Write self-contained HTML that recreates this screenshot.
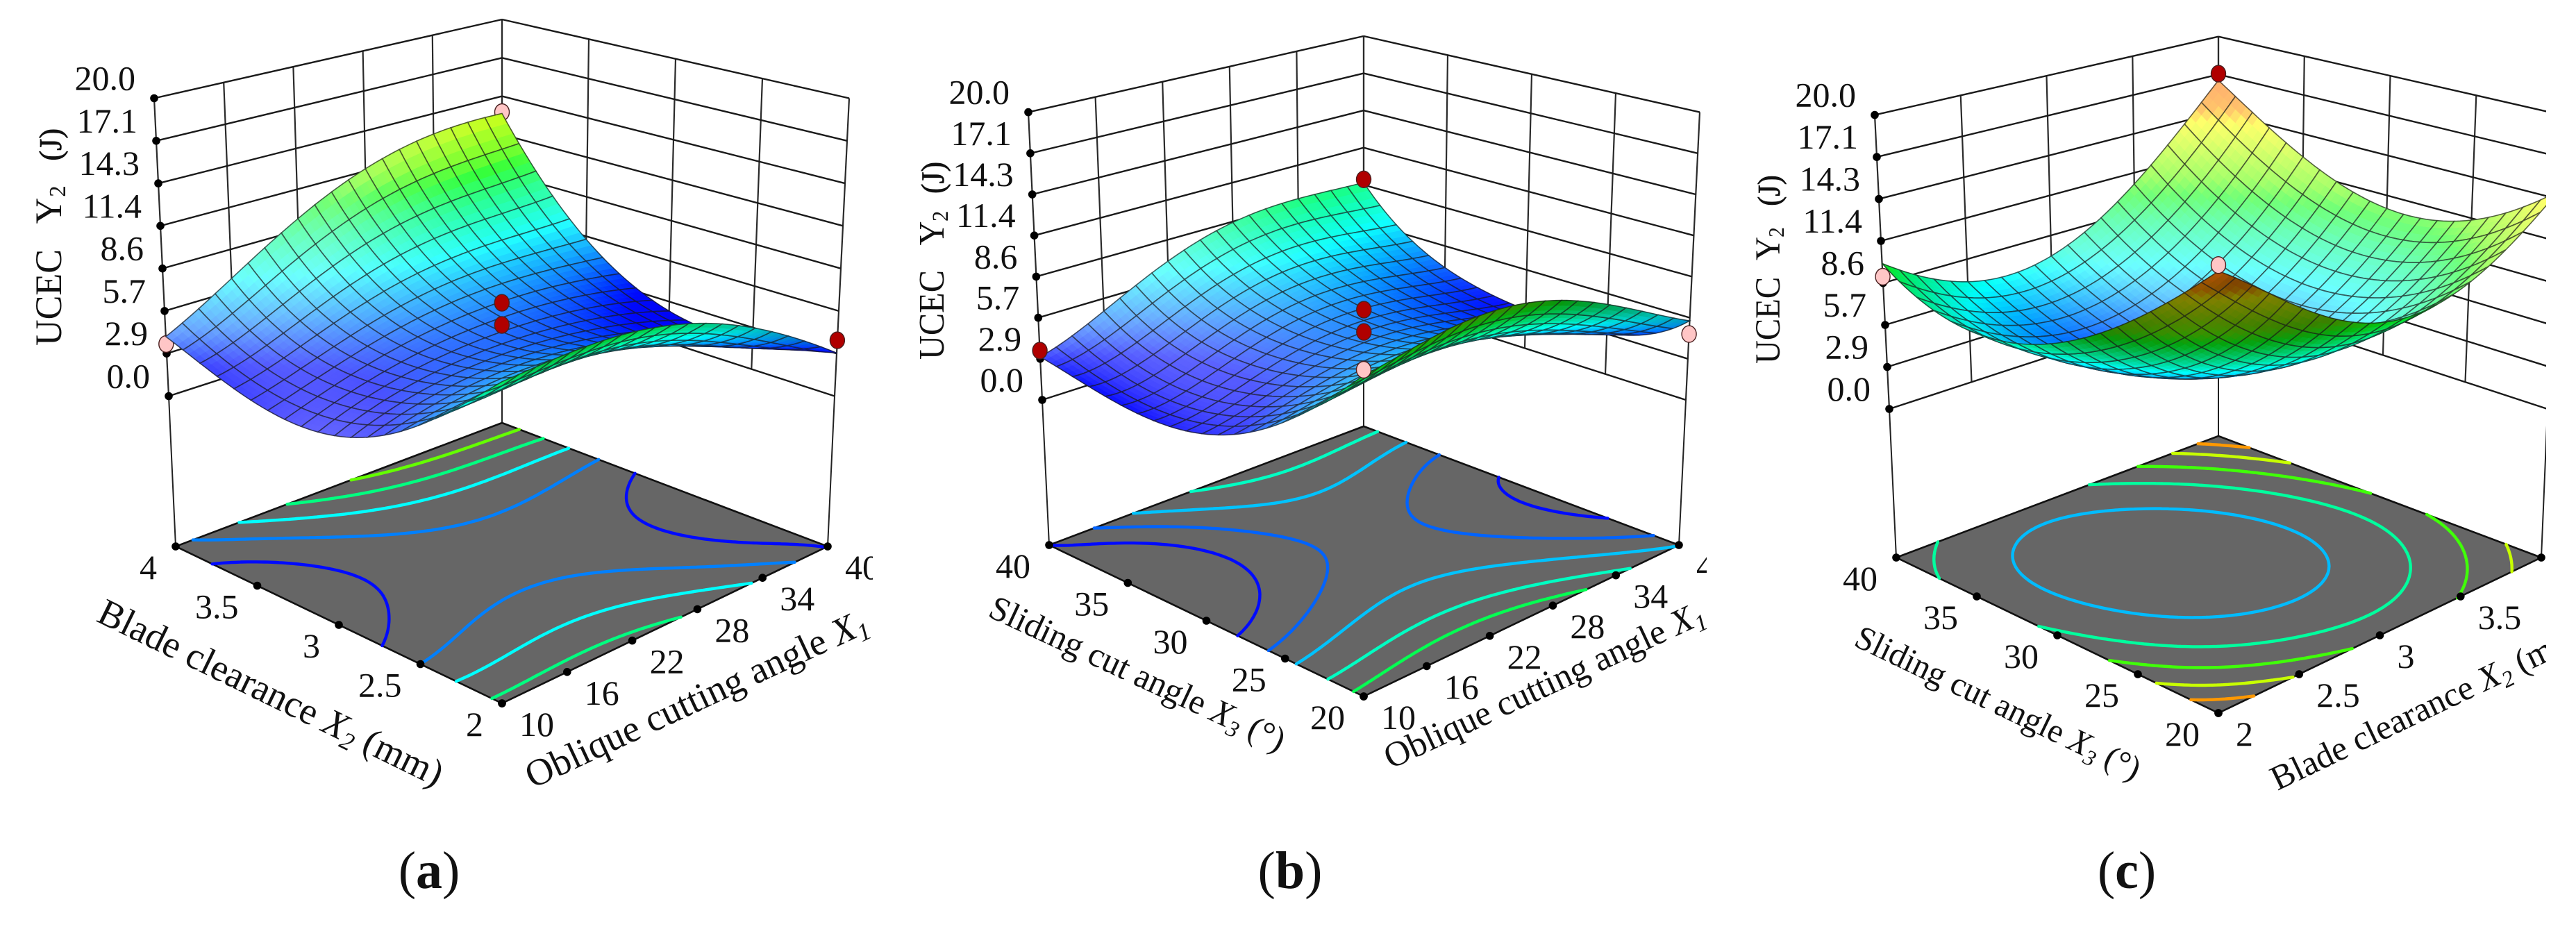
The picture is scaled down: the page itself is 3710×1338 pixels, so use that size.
<!DOCTYPE html>
<html lang="en">
<head>
<meta charset="utf-8">
<title>UCEC response surfaces</title>
<style>
html,body{margin:0;padding:0;background:#fff;}
svg{display:block;font-family:"Liberation Serif","Times New Roman",serif;fill:#111;}
</style>
</head>
<body>
<svg id="chart" xmlns="http://www.w3.org/2000/svg" width="3710" height="1338" viewBox="0 0 3710 1338">
  <defs>
    <clipPath id="clip-a"><rect x="0" y="0" width="1257" height="1180"/></clipPath>
    <clipPath id="clip-b"><rect x="1270" y="0" width="1188" height="1180"/></clipPath>
    <clipPath id="clip-c"><rect x="2480" y="0" width="1187" height="1180"/></clipPath>
  </defs>
  <rect width="3710" height="1338" fill="#fff"/>

  <g clip-path="url(#clip-a)">
    <g id="plot-a"></g>
    <text transform="translate(88,498) rotate(-90) scale(0.965,1)" font-size="54"><tspan x="0">UCEC</tspan><tspan x="182">Y</tspan><tspan x="222" dy="6" font-size="34">2</tspan><tspan x="276" dy="-6" font-size="46" stroke="#111" stroke-width="0.7">(J)</tspan></text>
    <text transform="translate(137,894) rotate(26)" font-size="54.5">Blade clearance <tspan font-style="italic">X</tspan><tspan dy="9" font-size="36" font-style="italic">2</tspan><tspan dy="-9"> (mm)</tspan></text>
    <text transform="translate(767,1136) rotate(-25)" font-size="54.5">Oblique cutting angle <tspan font-style="italic">X</tspan><tspan dy="9" font-size="36" font-style="italic">1</tspan></text>
  </g>

  <g clip-path="url(#clip-b)">
    <g id="plot-b"></g>
    <text transform="translate(1359,518) rotate(-90) scale(0.93,1)" font-size="52"><tspan x="0">UCEC</tspan><tspan x="177">Y</tspan><tspan x="214" dy="6" font-size="33">2</tspan><tspan x="257" dy="-6" font-size="47" stroke="#111" stroke-width="0.7">(J)</tspan></text>
    <text transform="translate(1421,887) rotate(25)" font-size="50">Sliding cut angle <tspan font-style="italic">X</tspan><tspan dy="9" font-size="33" font-style="italic">3</tspan><tspan dy="-9"> (°)</tspan></text>
    <text transform="translate(2003,1108) rotate(-25)" font-size="51">Oblique cutting angle <tspan font-style="italic">X</tspan><tspan dy="9" font-size="34" font-style="italic">1</tspan></text>
  </g>

  <g clip-path="url(#clip-c)">
    <g id="plot-c"></g>
    <text transform="translate(2563,524) rotate(-90) scale(0.92,1)" font-size="51"><tspan x="0">UCEC</tspan><tspan x="162">Y</tspan><tspan x="198" dy="6" font-size="32">2</tspan><tspan x="247" dy="-6" font-size="46" stroke="#111" stroke-width="0.7">(J)</tspan></text>
    <text transform="translate(2668,929) rotate(25.7)" font-size="48.5">Sliding cut angle <tspan font-style="italic">X</tspan><tspan dy="9" font-size="32" font-style="italic">3</tspan><tspan dy="-9"> (°)</tspan></text>
    <text transform="translate(3280,1139) rotate(-25.6)" font-size="50">Blade clearance <tspan font-style="italic">X</tspan><tspan dy="9" font-size="33" font-style="italic">2</tspan><tspan dy="-9"> (mm)</tspan></text>
  </g>

  <text x="618" y="1279" font-size="76" text-anchor="middle">(<tspan font-weight="bold">a</tspan>)</text>
  <text x="1858" y="1279" font-size="76" text-anchor="middle">(<tspan font-weight="bold">b</tspan>)</text>
  <text x="3063" y="1279" font-size="76" text-anchor="middle">(<tspan font-weight="bold">c</tspan>)</text>
</svg>

<script>
// ---- shared axis data ----
const zTicks = [0, 2.857, 5.714, 8.571, 11.429, 14.286, 17.143, 20];

const x1Ticks = [10, 16, 22, 28, 34, 40];
const x2Ticks = [2, 2.5, 3, 3.5, 4];
const x3Ticks = [20, 25, 30, 35, 40];

// ---- panel (a): Y2 over X1 (columns, 10..40) and X2 (rows, 2..4) ----
const surfaceA = [
  [9.2, 9.5, 8.9, 6.7, 2.9],
  [4.6, 5.3, 5.2, 3.8, 1.8],
  [1.9, 3.5, 4.0, 3.6, 2.2],
  [2.0, 3.7, 5.2, 5.7, 5.5],
  [4.0, 7.3, 10.6, 12.6, 13.0]
];
const contourLevelsA = [3, 4.6, 6.5, 8.6, 11];
const pointsX1A = [10, 40, 25, 25, 40];
const pointsX2A = [4, 4, 3, 3, 2];
const pointsYA = [3.5, 13.1, 6.75, 5.27, 3.75];
const pointsHighA = [false, false, true, true, true];

// ---- panel (b): Y2 over X1 (columns, 10..40) and X3 (rows, 20..40) ----
const surfaceB = [
  [9.9, 10.9, 10.8, 8.7, 5.5],
  [5.0, 5.9, 6.1, 4.9, 2.9],
  [2.2, 3.5, 4.5, 4.0, 2.8],
  [1.9, 3.0, 4.8, 5.0, 4.1],
  [3.0, 5.4, 7.9, 8.9, 8.75]
];
const contourLevelsB = [3, 4.2, 5.6, 7.5, 9.2];
const pointsX1B = [10, 40, 25, 25, 40, 10];
const pointsX3B = [40, 40, 30, 30, 20, 20];
const pointsYB = [3.43, 9.0, 6.78, 5.24, 4.58, 10.26];
const pointsHighB = [true, true, true, true, true, true];

// ---- panel (c): Y2 over X2 (columns, 2..4) and X3 (rows, 20..40) ----
const surfaceC = [
  [16.7, 12.7, 10.0, 10.7, 14.8],
  [12.0, 7.2, 5.6, 7.0, 11.3],
  [8.6, 4.7, 3.7, 5.6, 10.5],
  [7.5, 4.6, 4.2, 6.7, 12.6],
  [9.9, 7.0, 7.1, 10.6, 16.7]
];
const contourLevelsC = [5.5, 8.1, 10.6, 13, 15];
const pointsX2C = [2, 4, 2];
const pointsX3C = [40, 40, 20];
const pointsYC = [9.0, 17.2, 17.07];
const pointsHighC = [false, true, true];

// ---- rendering ----
const SVGNS = 'http://www.w3.org/2000/svg';
const Z_MAX = 20;
const MESH_CELLS = 20;
const SUBDIV = 3;
const NODES = [0, 0.25, 0.5, 0.75, 1];

const colorStops = [
  [1.5, 0, 0, 255], [3, 0, 10, 255], [4.6, 0, 128, 255], [6.5, 0, 255, 255],
  [8.6, 0, 255, 128], [10, 10, 255, 20], [11, 100, 255, 0], [13, 200, 255, 0], [14.2, 255, 255, 0],
  [15, 255, 152, 0], [20, 255, 40, 20]
];

function colorFor(z) {
  if (z <= colorStops[0][0]) return colorStops[0].slice(1);
  for (let i = 1; i < colorStops.length; i++) {
    if (z <= colorStops[i][0]) {
      const a = colorStops[i - 1], b = colorStops[i];
      const t = (z - a[0]) / (b[0] - a[0]);
      return [a[1] + (b[1] - a[1]) * t, a[2] + (b[2] - a[2]) * t, a[3] + (b[3] - a[3]) * t];
    }
  }
  return colorStops[colorStops.length - 1].slice(1);
}
function rgb(c) {
  return 'rgb(' + Math.round(c[0]) + ',' + Math.round(c[1]) + ',' + Math.round(c[2]) + ')';
}
function basis(t) {
  return NODES.map(function (ni, i) {
    let p = 1;
    NODES.forEach(function (nj, j) { if (j !== i) p *= (t - nj) / (ni - nj); });
    return p;
  });
}
function surfaceValue(grid, u, v) {
  const bu = basis(u), bv = basis(v);
  let s = 0;
  for (let j = 0; j < 5; j++) for (let i = 0; i < 5; i++) s += bv[j] * bu[i] * grid[j][i];
  return s;
}
function lerp2(a, b, t) { return [a[0] + (b[0] - a[0]) * t, a[1] + (b[1] - a[1]) * t]; }
function bilinear(F, R, L, B, u, v) {
  const k = [(1 - u) * (1 - v), u * (1 - v), (1 - u) * v, u * v];
  return [k[0] * F[0] + k[1] * R[0] + k[2] * L[0] + k[3] * B[0],
          k[0] * F[1] + k[1] * R[1] + k[2] * L[1] + k[3] * B[1]];
}
function project(f, u, v, z) {
  const t = z / Z_MAX;
  return bilinear(lerp2(f.F0, f.Ft, t), lerp2(f.R0, f.Rt, t), lerp2(f.L0, f.Lt, t), lerp2(f.B0, f.Bt, t), u, v);
}
function floorPoint(f, u, v) { return bilinear(f.fF, f.fR, f.fL, f.fB, u, v); }
function make(tag, attrs, parent) {
  const e = document.createElementNS(SVGNS, tag);
  for (const k in attrs) e.setAttribute(k, attrs[k]);
  parent.appendChild(e);
  return e;
}
function fmt(p) { return p[0].toFixed(1) + ' ' + p[1].toFixed(1); }
function line(parent, a, b, w, color) {
  const l = make('line', { x1: a[0].toFixed(1), y1: a[1].toFixed(1), x2: b[0].toFixed(1), y2: b[1].toFixed(1), stroke: color, 'stroke-width': w }, parent);
  return l;
}
function dot(parent, p) {
  const d = make('circle', { cx: p[0].toFixed(1), cy: p[1].toFixed(1), r: 5.8, fill: '#000' }, parent);
  return d;
}

function renderPanel(cfg) {
  const root = document.getElementById(cfg.target);
  const f = cfg.frame;
  const uOf = function (x) { return (x - cfg.uTicks[0]) / (cfg.uTicks[cfg.uTicks.length - 1] - cfg.uTicks[0]); };
  const vOf = function (x) { return (x - cfg.vTicks[0]) / (cfg.vTicks[cfg.vTicks.length - 1] - cfg.vTicks[0]); };

  // walls
  const walls = make('g', {}, root);
  
  
  cfg.uTicks.forEach(function (t) {
    const l = line(walls, project(f, uOf(t), 1, 0), project(f, uOf(t), 1, Z_MAX), 2.2, '#2a2a2a');
    
    
  });
  cfg.vTicks.forEach(function (t) {
    const l = line(walls, project(f, 1, vOf(t), 0), project(f, 1, vOf(t), Z_MAX), 2.2, '#2a2a2a');
    
    
  });
  zTicks.forEach(function (z) {
    const a = line(walls, project(f, 0, 1, z), project(f, 1, 1, z), 2.4, '#1a1a1a');
    
    
    const b = line(walls, project(f, 1, 1, z), project(f, 1, 0, z), 2.4, '#1a1a1a');
    
    
  });

  // drop lines to floor corners
  [[f.L0, f.fL], [f.R0, f.fR], [f.B0, f.fB]].forEach(function (seg) {
    const l = line(root, seg[0], seg[1], 2, '#222');
    
    
  });

  // floor
  const floor = make('polygon', {
    points: [f.fF, f.fR, f.fB, f.fL].map(fmt).join(' '),
    fill: '#666', stroke: '#111', 'stroke-width': 2.6, 'stroke-linejoin': 'round'
  }, root);
  
  

  // contours from the surface values
  const N = 90;
  const field = [];
  for (let j = 0; j <= N; j++) {
    const row = [];
    for (let i = 0; i <= N; i++) row.push(surfaceValue(cfg.surface, i / N, j / N));
    field.push(row);
  }
  cfg.levels.forEach(function (level) {
    let d = '';
    for (let j = 0; j < N; j++) {
      for (let i = 0; i < N; i++) {
        const c = [field[j][i], field[j][i + 1], field[j + 1][i + 1], field[j + 1][i]];
        const pu = [i, i + 1, i + 1, i], pv = [j, j, j + 1, j + 1];
        const hits = [];
        for (let e = 0; e < 4; e++) {
          const n = (e + 1) % 4;
          if ((c[e] < level) !== (c[n] < level)) {
            const t = (level - c[e]) / (c[n] - c[e]);
            hits.push(floorPoint(f, (pu[e] + (pu[n] - pu[e]) * t) / N, (pv[e] + (pv[n] - pv[e]) * t) / N));
          }
        }
        for (let h = 0; h + 1 < hits.length; h += 2) d += 'M' + fmt(hits[h]) + 'L' + fmt(hits[h + 1]);
      }
    }
    const path = make('path', { d: d, fill: 'none', stroke: rgb(colorFor(level)), 'stroke-width': 4.4, 'stroke-linecap': 'round' }, root);
    
    
  });

  // axis ticks and labels
  zTicks.forEach(function (z) {
    const p = project(f, 0, 1, z);
    const d = dot(root, p);
    
    
    const t = make('text', { x: (p[0] - 27).toFixed(1), y: (p[1] - 12).toFixed(1), 'font-size': 50, 'text-anchor': 'end' }, root);
    t.textContent = z.toFixed(1);
    
    
  });
  cfg.uTicks.forEach(function (v) {
    const p = floorPoint(f, uOf(v), 0);
    const d = dot(root, p);
    
    
    const t = make('text', { x: (p[0] + 25).toFixed(1), y: (p[1] + 47).toFixed(1), 'font-size': 50 }, root);
    t.textContent = String(v);
    
    
  });
  cfg.vTicks.forEach(function (v) {
    const p = floorPoint(f, 0, vOf(v));
    const d = dot(root, p);
    
    
    const t = make('text', { x: (p[0] - 27).toFixed(1), y: (p[1] + 47).toFixed(1), 'font-size': 50, 'text-anchor': 'end' }, root);
    t.textContent = String(v);
    
    
  });

  function drawPoints(high) {
    cfg.pointsU.forEach(function (pu, i) {
      if (cfg.pointsHigh[i] !== high) return;
      const p = project(f, uOf(pu), vOf(cfg.pointsV[i]), cfg.pointsY[i]);
      const isPale = cfg.pointsPale[i];
      const m = make('ellipse', {
        cx: p[0].toFixed(1), cy: p[1].toFixed(1), rx: 10.5, ry: 12,
        fill: isPale ? '#ffc6c6' : '#b00000', stroke: '#4a2020', 'stroke-width': 1.4
      }, root);
      
      
    });
  }
  drawPoints(false);

  // surface
  const S = MESH_CELLS * SUBDIV;
  const Z = [], P = [];
  for (let j = 0; j <= S; j++) {
    const rz = [], rp = [];
    for (let i = 0; i <= S; i++) {
      const z = surfaceValue(cfg.surface, i / S, j / S);
      rz.push(z);
      rp.push(project(f, i / S, j / S, z));
    }
    Z.push(rz); P.push(rp);
  }
  const surfaceGroup = make('g', {}, root);
  
  
  const order = [];
  for (let j = 0; j < MESH_CELLS; j++) for (let i = 0; i < MESH_CELLS; i++) order.push([i, j]);
  order.sort(function (a, b) { return (b[0] + b[1]) - (a[0] + a[1]); });
  order.forEach(function (cell) {
    const g = make('g', {}, surfaceGroup);
    
    
    const i0 = cell[0] * SUBDIV, j0 = cell[1] * SUBDIV;
    for (let b = SUBDIV - 1; b >= 0; b--) {
      for (let a = SUBDIV - 1; a >= 0; a--) {
        const i = i0 + a, j = j0 + b;
        const q = [P[j][i], P[j][i + 1], P[j + 1][i + 1], P[j + 1][i]];
        let area = 0;
        for (let k = 0; k < 4; k++) {
          const n = (k + 1) % 4;
          area += q[k][0] * q[n][1] - q[n][0] * q[k][1];
        }
        const zc = (Z[j][i] + Z[j][i + 1] + Z[j + 1][i] + Z[j + 1][i + 1]) / 4;
        const dzu = (Z[j][i + 1] + Z[j + 1][i + 1] - Z[j][i] - Z[j + 1][i]) / 2 * S;
        const dzv = (Z[j + 1][i] + Z[j + 1][i + 1] - Z[j][i] - Z[j][i + 1]) / 2 * S;
        let c = colorFor(zc);
        if (area < 0) {
          const m = 0.13 + 0.028 * dzu;
          if (m >= 0) {
            const w = Math.min(m, 0.42);
            c = c.map(function (x) { return x + (255 - x) * w; });
          } else {
            const k = Math.max(0.85, 1 + m * 0.3);
            c = c.map(function (x) { return x * k; });
          }
        } else {
          const k = 1 - 0.5 * Math.max(0, Math.min(1, (Math.hypot(dzu, dzv) - 18) / 12));
          c = c.map(function (x) { return x * k; });
        }
        const col = rgb(c);
        make('polygon', { points: q.map(fmt).join(' '), fill: col, stroke: col, 'stroke-width': 0.9 }, g);
      }
    }
    let d = 'M' + fmt(P[j0][i0]);
    for (let k = 1; k <= SUBDIV; k++) d += 'L' + fmt(P[j0][i0 + k]);
    for (let k = 1; k <= SUBDIV; k++) d += 'L' + fmt(P[j0 + k][i0 + SUBDIV]);
    for (let k = 1; k <= SUBDIV; k++) d += 'L' + fmt(P[j0 + SUBDIV][i0 + SUBDIV - k]);
    for (let k = 1; k <= SUBDIV; k++) d += 'L' + fmt(P[j0 + SUBDIV - k][i0]);
    make('path', { d: d + 'Z', fill: 'none', stroke: 'rgba(25,25,25,0.68)', 'stroke-width': 1.6 }, g);
  });
  drawPoints(true);
}

renderPanel({
  target: 'plot-a',
  frame: { L0: [243, 570.5], Lt: [222, 141.5], R0: [1202, 570.5], Rt: [1223, 141.5], B0: [723, 415], Bt: [723, 28], F0: [723, 771], Ft: [723, 290],
           fL: [253, 787], fR: [1192, 787], fB: [723, 609], fF: [723, 1013] },
  uTicks: x1Ticks, vTicks: x2Ticks, surface: surfaceA, levels: contourLevelsA,
  pointsU: pointsX1A, pointsV: pointsX2A, pointsY: pointsYA, pointsHigh: pointsHighA,
  pointsPale: [true, true, false, false, false]
});
renderPanel({
  target: 'plot-b',
  frame: { L0: [1501, 576], Lt: [1481, 161.6], R0: [2428, 576], Rt: [2448, 161.6], B0: [1964, 427], Bt: [1964, 52], F0: [1964, 770], Ft: [1964, 307],
           fL: [1511, 785], fR: [2418, 785], fB: [1964, 614], fF: [1964, 1003] },
  uTicks: x1Ticks, vTicks: x3Ticks, surface: surfaceB, levels: contourLevelsB,
  pointsU: pointsX1B, pointsV: pointsX3B, pointsY: pointsYB, pointsHigh: pointsHighB,
  pointsPale: [false, false, false, false, true, true]
});
renderPanel({
  target: 'plot-c',
  frame: { L0: [2721, 589], Lt: [2700, 165.6], R0: [3669, 589], Rt: [3690, 165.6], B0: [3195, 434], Bt: [3195, 52.7], F0: [3195, 788], Ft: [3195, 312],
           fL: [2731, 803], fR: [3660, 803], fB: [3195, 628], fF: [3195, 1027] },
  uTicks: x2Ticks, vTicks: x3Ticks, surface: surfaceC, levels: contourLevelsC,
  pointsU: pointsX2C, pointsV: pointsX3C, pointsY: pointsYC, pointsHigh: pointsHighC,
  pointsPale: [true, false, true]
});
</script>
</body>
</html>
